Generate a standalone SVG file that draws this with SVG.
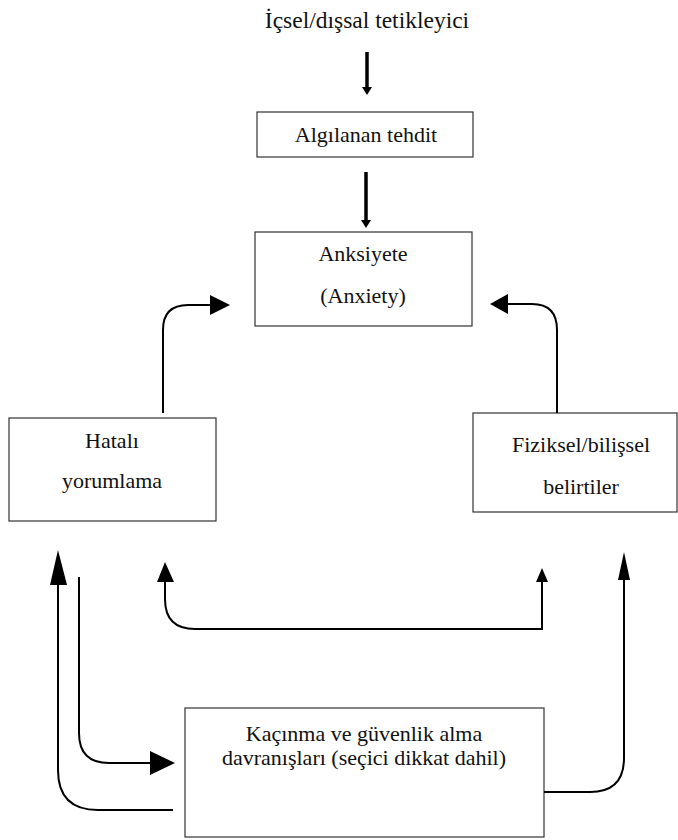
<svg xmlns="http://www.w3.org/2000/svg" width="678" height="840" viewBox="0 0 678 840">
<style>
  .box{fill:#fff;stroke:#333;stroke-width:1.2}
  .t{font-family:"Liberation Serif","Times New Roman",serif;font-size:22px;fill:#111;text-anchor:middle}
  .ln{fill:none;stroke:#000;stroke-width:2}
  .thick{fill:none;stroke:#000;stroke-width:3.5}
  .hd{fill:#000}
</style>
<rect width="678" height="840" fill="#fff"/>
<g id="trigger">
  <text class="t" x="367" y="28" style="font-size:23.5px">İçsel/dışsal tetikleyici</text>
</g>
<g id="threat">
  <rect class="box" x="257" y="112" width="216" height="45"/>
  <text class="t" x="366" y="142">Algılanan tehdit</text>
</g>
<g id="anxiety">
  <rect class="box" x="255" y="232" width="217" height="94"/>
  <text class="t" x="363" y="261">Anksiyete</text>
  <text class="t" x="363" y="303">(Anxiety)</text>
</g>
<g id="misinterpretation">
  <rect class="box" x="9" y="418" width="207" height="103"/>
  <text class="t" x="112" y="448">Hatalı</text>
  <text class="t" x="112" y="488">yorumlama</text>
</g>
<g id="symptoms">
  <rect class="box" x="473" y="413" width="204" height="99"/>
  <text class="t" x="581" y="452">Fiziksel/bilişsel</text>
  <text class="t" x="581" y="494">belirtiler</text>
</g>
<g id="avoidance">
  <rect class="box" x="185" y="708" width="359" height="129"/>
  <text class="t" x="364" y="741">Kaçınma ve güvenlik alma</text>
  <text class="t" x="364" y="765">davranışları (seçici dikkat dahil)</text>
</g>
<g id="connectors">
  <path class="thick" d="M367,52 V88"/>
  <polygon class="hd" points="367,95 362,87 372,87"/>
  <path class="thick" d="M366,172 V221"/>
  <polygon class="hd" points="366,228 361,220 371,220"/>
  <path class="ln" d="M163,413 V330 Q163,305 188,305 H212"/>
  <polygon class="hd" points="230,305 210,295 210,315"/>
  <path class="ln" d="M557,413 V330 Q557,304 532,304 H506"/>
  <polygon class="hd" points="490,304 508,294 508,314"/>
  <path class="ln" d="M173,810 H98 Q58,810 58,770 V584"/>
  <polygon class="hd" points="58,550 50,585 67,585"/>
  <path class="ln" d="M79,577 V733 Q79,763 109,763 H152"/>
  <polygon class="hd" points="175,763 150,751 150,775"/>
  <path class="ln" d="M542,581 V629 H195 Q165,629 165,599 V581"/>
  <polygon class="hd" points="165,562 157,582 174,582"/>
  <polygon class="hd" points="542,568 536,582 548,582"/>
  <path class="ln" d="M544,792 H590 Q624,792 624,758 V579"/>
  <polygon class="hd" points="624,552 618,580 630,580"/>
</g>
</svg>
